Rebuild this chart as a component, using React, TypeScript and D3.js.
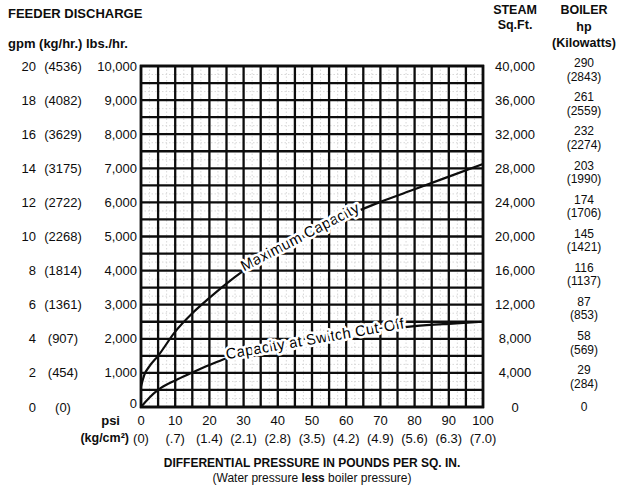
import React from 'react';
import * as d3 from 'd3';

// ---- data ----
const psiTicks = [0, 10, 20, 30, 40, 50, 60, 70, 80, 90, 100];
const kgcmLabels = ['(0)', '(.7)', '(1.4)', '(2.1)', '(2.8)', '(3.5)', '(4.2)', '(4.9)', '(5.6)', '(6.3)', '(7.0)'];
const gpmLabels = [0, 2, 4, 6, 8, 10, 12, 14, 16, 18, 20];
const kghrLabels = ['(0)', '(454)', '(907)', '(1361)', '(1814)', '(2268)', '(2722)', '(3175)', '(3629)', '(4082)', '(4536)'];
const lbsTicks = [0, 1000, 2000, 3000, 4000, 5000, 6000, 7000, 8000, 9000, 10000];
const steamTicks = [0, 4000, 8000, 12000, 16000, 20000, 24000, 28000, 32000, 36000, 40000];
const boilerHp = [0, 29, 58, 87, 116, 145, 174, 203, 232, 261, 290];
const boilerKw = ['', '(284)', '(569)', '(853)', '(1137)', '(1421)', '(1706)', '(1990)', '(2274)', '(2559)', '(2843)'];

const maxPsi = [0, 1, 2.5, 5, 10, 15, 20, 25, 30, 40, 50, 60, 70, 80, 90, 100];
const maxLbs = [600, 950, 1200, 1500, 2210, 2750, 3200, 3620, 4000, 4630, 5160, 5600, 6015, 6385, 6755, 7125];
const cutPsi = [0, 2.5, 5, 10, 15, 20, 25, 30, 40, 50, 60, 70, 80, 90, 100];
const cutLbs = [0, 280, 500, 780, 1010, 1230, 1430, 1580, 1820, 2000, 2150, 2270, 2370, 2440, 2500];

const FONT = '"Liberation Sans", Arial, Helvetica, sans-serif';
const INK = '#0d0d0d';

export default function App() {
  const W = 617, H = 487;
  const x = d3.scaleLinear().domain([0, 100]).range([141, 483]);
  const y = d3.scaleLinear().domain([0, 10000]).range([407, 66]);
  const ySteam = d3.scaleLinear().domain([0, 40000]).range([407, 66]);

  const gridX = d3.range(0, 100.001, 5);
  const gridY = d3.range(0, 10000.001, 500);
  const minorX = d3.range(2.5, 100, 5);
  const minorY = d3.range(250, 10000, 500);

  const line = d3.line<[number, number]>().x(d => x(d[0])).y(d => y(d[1])).curve(d3.curveMonotoneX);
  const maxPts: [number, number][] = maxPsi.map((p, i) => [p, maxLbs[i]]);
  const cutPts: [number, number][] = cutPsi.map((p, i) => [p, cutLbs[i]]);
  const interp = (ps: number[], vs: number[], p: number) => d3.scaleLinear().domain(ps).range(vs)(p);

  const labelGeom = (ps: number[], vs: number[], p0: number, p1: number) => {
    const ax = x(p0), ay = y(interp(ps, vs, p0));
    const bx = x(p1), by = y(interp(ps, vs, p1));
    const ang = (Math.atan2(by - ay, bx - ax) * 180) / Math.PI;
    const len = Math.hypot(bx - ax, by - ay);
    return { ax, ay, ang, len };
  };
  const maxLab = labelGeom(maxPsi, maxLbs, 30, 64);
  const cutLab = labelGeom(cutPsi, cutLbs, 25, 77);

  const curveLabel = (g: any, txt: string) => (
    <g transform={`translate(${g.ax},${g.ay}) rotate(${g.ang})`}>
      <text x={0} y={1} textLength={g.len} lengthAdjust="spacing" fontSize={15} fontFamily={FONT}
        fill="#000" stroke="#fff" strokeWidth={5} strokeLinejoin="round" style={{ paintOrder: 'stroke' }}>{txt}</text>
    </g>
  );

  return (
    <svg width={W} height={H} style={{ position: 'absolute', left: 0, top: 0, background: '#fff' }} fontFamily={FONT}>
      <defs>
        <mask id="mMax">
          <rect x={0} y={0} width={W} height={H} fill="#fff" />
          <g transform={`translate(${maxLab.ax},${maxLab.ay}) rotate(${maxLab.ang})`}>
            <rect x={-1} y={-13} width={maxLab.len + 2} height={17} fill="#000" />
          </g>
        </mask>
        <mask id="mCut">
          <rect x={0} y={0} width={W} height={H} fill="#fff" />
          <g transform={`translate(${cutLab.ax},${cutLab.ay}) rotate(${cutLab.ang})`}>
            <rect x={-1} y={-13} width={cutLab.len + 2} height={17} fill="#000" />
          </g>
        </mask>
      </defs>
      <rect x={0} y={0} width={W} height={H} fill="#fff" />

      {/* minor faint grid */}
      <g stroke="#d8d8d8" strokeWidth={1} strokeDasharray="1.5,2">
        {minorX.map(p => <line key={'mx' + p} x1={x(p)} x2={x(p)} y1={y(10000)} y2={y(0)} />)}
        {minorY.map(v => <line key={'my' + v} x1={x(0)} x2={x(100)} y1={y(v)} y2={y(v)} />)}
      </g>
      {/* major grid */}
      <g stroke={INK} strokeWidth={2.3}>
        {gridX.map(p => <line key={'gx' + p} x1={x(p)} x2={x(p)} y1={y(10000) - 1} y2={y(0) + 1} />)}
        {gridY.map(v => <line key={'gy' + v} x1={x(0) - 1} x2={x(100) + 1} y1={y(v)} y2={y(v)} />)}
      </g>
      <rect x={x(0)} y={y(10000)} width={x(100) - x(0)} height={y(0) - y(10000)} fill="none" stroke={INK} strokeWidth={2.6} />

      {/* curves */}
      <path d={line(maxPts) || ''} fill="none" stroke={INK} strokeWidth={2.2} mask="url(#mMax)" />
      <path d={line(cutPts) || ''} fill="none" stroke={INK} strokeWidth={2.2} mask="url(#mCut)" />
      {curveLabel(maxLab, 'Maximum Capacity')}
      {curveLabel(cutLab, 'Capacity at Switch Cut-Off')}

      {/* headers */}
      <text x={8} y={13} dy="0.35em" fontSize={13} fontWeight="bold" fill={INK}>FEEDER DISCHARGE</text>
      <text x={8} y={43} dy="0.35em" fontSize={13} fontWeight="bold" fill={INK}>gpm (kg/hr.) lbs./hr.</text>
      <g fontSize={12.5} fontWeight="bold" fill={INK} textAnchor="middle">
        <text x={515} y={10} dy="0.35em">STEAM</text>
        <text x={515} y={25} dy="0.35em">Sq.Ft.</text>
        <text x={584} y={10} dy="0.35em">BOILER</text>
        <text x={584} y={27} dy="0.35em">hp</text>
        <text x={584} y={43} dy="0.35em">(Kilowatts)</text>
      </g>

      {/* left labels */}
      <g fontSize={13} fill={INK}>
        {lbsTicks.map((v, i) => (
          <g key={'l' + v}>
            <text x={36} y={y(v)} dy="0.35em" textAnchor="end">{gpmLabels[i]}</text>
            <text x={63} y={y(v)} dy="0.35em" textAnchor="middle">{kghrLabels[i]}</text>
            <text x={137} y={y(v) - (i === 0 ? 4 : 0)} dy="0.35em" textAnchor="end">{d3.format(',')(v)}</text>
          </g>
        ))}
      </g>

      {/* right labels */}
      <g fill={INK} textAnchor="middle">
        {steamTicks.map((v, i) => (
          <g key={'r' + v}>
            <text x={515} y={ySteam(v)} dy="0.35em" fontSize={13}>{d3.format(',')(v)}</text>
            <text x={584} y={ySteam(v) - (i === 0 ? 0 : 3)} dy="0.35em" fontSize={12}>{boilerHp[i]}</text>
            {boilerKw[i] && <text x={584} y={ySteam(v) + 10.5} dy="0.35em" fontSize={12}>{boilerKw[i]}</text>}
          </g>
        ))}
      </g>

      {/* bottom labels */}
      <g fontSize={13} fill={INK} textAnchor="middle">
        {psiTicks.map((p, i) => (
          <g key={'b' + p}>
            <text x={x(p)} y={420} dy="0.35em">{p}</text>
            <text x={x(p)} y={438} dy="0.35em">{kgcmLabels[i]}</text>
          </g>
        ))}
      </g>
      <text x={120} y={420} dy="0.35em" textAnchor="end" fontSize={13} fontWeight="bold" fill={INK}>psi</text>
      <text x={129} y={438} dy="0.35em" textAnchor="end" fontSize={12.5} fontWeight="bold" fill={INK}>(kg/cm²)</text>
      <text x={312} y={463} dy="0.35em" textAnchor="middle" fontSize={12} fontWeight="bold" fill={INK}>DIFFERENTIAL PRESSURE IN POUNDS PER SQ. IN.</text>
      <text x={312} y={478} dy="0.35em" textAnchor="middle" fontSize={12} fill={INK}>
        (Water pressure <tspan fontWeight="bold">less</tspan> boiler pressure)
      </text>
    </svg>
  );
}
